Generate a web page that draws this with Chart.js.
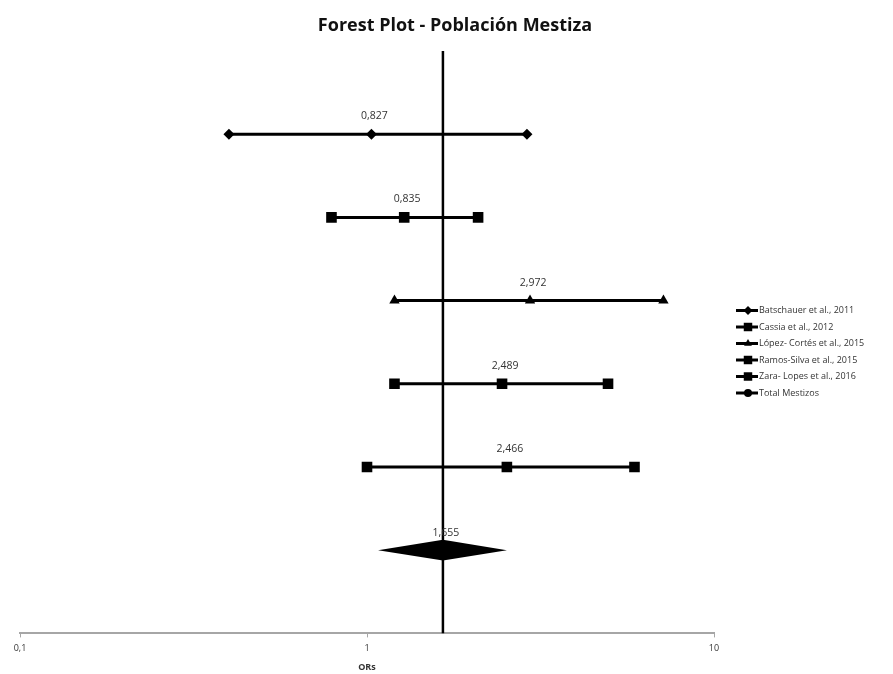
<!DOCTYPE html>
<html>
<head>
<meta charset="utf-8">
<script src="https://cdn.jsdelivr.net/npm/chart.js@4.4.1/dist/chart.umd.min.js"></script>
<style>
  html, body { margin: 0; padding: 0; background: #fff; }
  #wrap { width: 893px; height: 674px; }
</style>
</head>
<body>
<div id="wrap"><canvas id="forestChart" width="893" height="674"></canvas></div>
<script>
// estudios (de arriba hacia abajo)
const studies = ['Batschauer et al., 2011', 'Cassia et al., 2012', 'López- Cortés et al., 2015', 'Ramos-Silva et al., 2015', 'Zara- Lopes et al., 2016'];
const lower = [0.40, 0.79, 1.20, 1.20, 1.00];
const point = [1.03, 1.28, 2.95, 2.45, 2.53];
const upper = [2.89, 2.09, 7.15, 4.95, 5.90];
const orLabels = [0.827, 0.835, 2.972, 2.489, 2.466];
const markers = ['rectRot', 'rect', 'triangle', 'rect', 'rect'];
const rows = [6, 5, 4, 3, 2];

// total
const totalName = 'Total Mestizos';
const totalLower = 1.076;
const totalOR = 1.655;
const totalUpper = 2.53;
const totalRow = 1;

const xTicks = [0.1, 1, 10];
const chartTitle = 'Forest Plot - Población Mestiza';

function fmt(v) {
    return String(v).replace('.', ',');
}

const datasets = [];

// linea vertical del OR total
datasets.push({
    label: 'ref',
    data: [{ x: totalOR, y: 0 }, { x: totalOR, y: 7 }],
    showLine: true,
    borderColor: '#000',
    borderWidth: 2.5,
    pointRadius: 0
});

studies.forEach((name, i) => {
    datasets.push({
        label: name,
        data: [
            { x: lower[i], y: rows[i] },
            { x: point[i], y: rows[i] },
            { x: upper[i], y: rows[i] }
        ],
        showLine: true,
        borderColor: '#000',
        backgroundColor: '#000',
        borderWidth: 3,
        pointStyle: markers[i],
        pointRadius: markers[i] === 'rect' ? 7.5 : (markers[i] === 'triangle' ? 6 : 5.5),
        pointBorderWidth: 0,
        orLabel: orLabels[i]
    });
});

// total (diamante dibujado por el plugin a partir de estos puntos)
datasets.push({
    label: totalName,
    data: [
        { x: totalLower, y: totalRow },
        { x: totalOR, y: totalRow },
        { x: totalUpper, y: totalRow }
    ],
    showLine: false,
    pointRadius: 0,
    isTotal: true,
    orLabel: totalOR
});

const diamondPlugin = {
    id: 'diamond',
    afterDatasetsDraw(chart) {
        const ctx = chart.ctx;
        const xs = chart.scales.x, ys = chart.scales.y;
        const half = Math.abs(ys.getPixelForValue(0) - ys.getPixelForValue(0.125));
        const yc = ys.getPixelForValue(totalRow);
        ctx.save();
        ctx.fillStyle = '#000';
        ctx.beginPath();
        ctx.moveTo(xs.getPixelForValue(totalLower), yc);
        ctx.lineTo(xs.getPixelForValue(totalOR), yc - half);
        ctx.lineTo(xs.getPixelForValue(totalUpper), yc);
        ctx.lineTo(xs.getPixelForValue(totalOR), yc + half);
        ctx.closePath();
        ctx.fill();
        ctx.restore();
    }
};

// etiquetas de OR encima de cada punto
const orLabelPlugin = {
    id: 'orLabels',
    afterDatasetsDraw(chart) {
        const ctx = chart.ctx;
        ctx.save();
        ctx.font = '10.5px "Open Sans", sans-serif';
        ctx.fillStyle = '#333';
        ctx.textAlign = 'center';
        ctx.textBaseline = 'middle';
        chart.data.datasets.forEach((ds, di) => {
            if (ds.orLabel === undefined) return;
            const el = chart.getDatasetMeta(di).data[1];
            const off = ds.isTotal ? 17 : 18;
            ctx.fillText(fmt(ds.orLabel), el.x + 3, el.y - off);
        });
        ctx.restore();
    }
};

// titulo centrado en la imagen
const titlePlugin = {
    id: 'topTitle',
    afterDraw(chart) {
        const ctx = chart.ctx;
        ctx.save();
        ctx.font = 'bold 18px "Open Sans", sans-serif';
        ctx.fillStyle = '#111';
        ctx.textAlign = 'center';
        ctx.textBaseline = 'middle';
        ctx.fillText(chartTitle, 455, 26);
        ctx.restore();
    }
};

// leyenda con linea + marcador
const sideLegendPlugin = {
    id: 'sideLegend',
    afterDraw(chart) {
        const ctx = chart.ctx;
        const items = studies.map((s, i) => ({ text: s, style: markers[i] }));
        items.push({ text: totalName, style: 'circle' });
        const x0 = 736, y0 = 310.5, step = 16.5;
        ctx.save();
        ctx.font = '9px "Open Sans", sans-serif';
        ctx.textBaseline = 'middle';
        items.forEach((it, i) => {
            const y = y0 + i * step;
            ctx.strokeStyle = '#000';
            ctx.lineWidth = 3;
            ctx.beginPath();
            ctx.moveTo(x0, y);
            ctx.lineTo(x0 + 22, y);
            ctx.stroke();
            ctx.fillStyle = '#000';
            const r = it.style === 'rect' ? 6 : (it.style === 'circle' ? 4 : 4.5);
            Chart.helpers.drawPoint(ctx, { pointStyle: it.style, radius: r, borderWidth: 0 }, x0 + 12, y);
            ctx.fillStyle = '#333';
            ctx.fillText(it.text, x0 + 23, y);
        });
        ctx.restore();
    }
};

new Chart(document.getElementById('forestChart'), {
    type: 'scatter',
    data: { datasets: datasets },
    plugins: [diamondPlugin, orLabelPlugin, titlePlugin, sideLegendPlugin],
    options: {
        responsive: false,
        animation: false,
        layout: { padding: { left: 20, right: 179, top: 51, bottom: 1 } },
        plugins: {
            legend: { display: false },
            tooltip: { enabled: false },
            title: { display: false }
        },
        scales: {
            x: {
                type: 'logarithmic',
                min: 0.1,
                max: 10,
                afterBuildTicks(scale) {
                    scale.ticks = xTicks.map(v => ({ value: v }));
                },
                border: { color: '#a6a6a6', width: 2 },
                grid: { display: true, drawOnChartArea: false, color: '#a6a6a6', tickLength: 4 },
                ticks: {
                    color: '#333',
                    font: { family: '"Open Sans", sans-serif', size: 9 },
                    padding: 6,
                    maxRotation: 0,
                    callback: v => fmt(v)
                },
                title: {
                    display: true,
                    text: 'ORs',
                    color: '#333',
                    font: { family: '"Open Sans", sans-serif', size: 9, weight: 'bold' },
                    padding: { top: 2, bottom: 0 }
                }
            },
            y: {
                display: false,
                min: 0,
                max: 7
            }
        }
    }
});
</script>
</body>
</html>
